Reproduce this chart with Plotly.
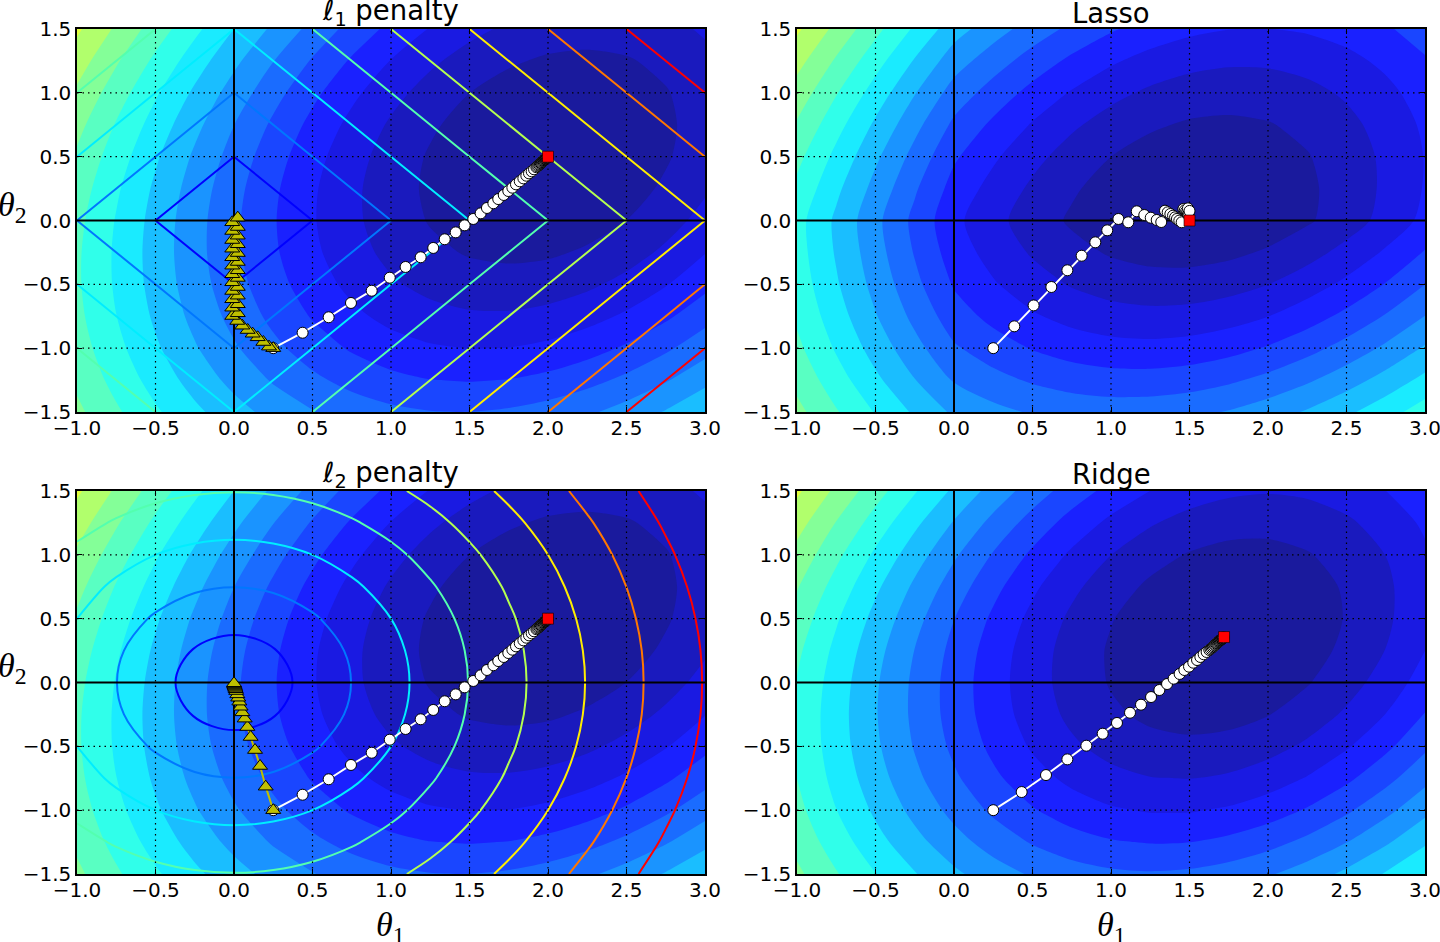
import plotly.graph_objects as go

# grid the background surfaces are read on
theta1_grid = [-1.0, -0.75, -0.5, -0.25, 0.0, 0.25, 0.5, 0.75, 1.0, 1.25, 1.5, 1.75, 2.0, 2.25, 2.5, 2.75, 3.0]
theta2_grid = [-1.5, -1.25, -1.0, -0.75, -0.5, -0.25, 0.0, 0.25, 0.5, 0.75, 1.0, 1.25, 1.5]

cost_plain = [
    [6.55, 5.749, 5.034, 4.407, 3.867, 3.414, 3.048, 2.769, 2.577, 2.472, 2.454, 2.524, 2.68, 2.924, 3.254, 3.672, 4.177],
    [6.222, 5.396, 4.656, 4.004, 3.439, 2.961, 2.57, 2.266, 2.049, 1.919, 1.876, 1.921, 2.052, 2.271, 2.576, 2.969, 3.449],
    [5.978, 5.127, 4.362, 3.685, 3.095, 2.592, 2.176, 1.847, 1.605, 1.45, 1.382, 1.402, 1.508, 1.702, 1.982, 2.35, 2.805],
    [5.817, 4.941, 4.151, 3.449, 2.834, 2.306, 1.865, 1.511, 1.244, 1.064, 0.971, 0.966, 1.047, 1.216, 1.471, 1.814, 2.244],
    [5.74, 4.839, 4.024, 3.297, 2.657, 2.104, 1.638, 1.259, 0.967, 0.762, 0.644, 0.614, 0.67, 0.814, 1.044, 1.362, 1.767],
    [5.747, 4.821, 3.981, 3.229, 2.564, 1.986, 1.495, 1.091, 0.774, 0.544, 0.401, 0.346, 0.377, 0.496, 0.701, 0.994, 1.374],
    [5.838, 4.887, 4.022, 3.245, 2.555, 1.952, 1.436, 1.007, 0.665, 0.41, 0.242, 0.162, 0.168, 0.262, 0.442, 0.71, 1.065],
    [6.012, 5.036, 4.146, 3.344, 2.629, 2.001, 1.46, 1.006, 0.639, 0.359, 0.166, 0.061, 0.042, 0.111, 0.266, 0.509, 0.839],
    [6.27, 5.269, 4.354, 3.527, 2.787, 2.134, 1.568, 1.089, 0.697, 0.392, 0.174, 0.044, 0.0, 0.044, 0.174, 0.392, 0.697],
    [6.612, 5.586, 4.646, 3.794, 3.029, 2.351, 1.76, 1.256, 0.839, 0.509, 0.266, 0.111, 0.042, 0.061, 0.166, 0.359, 0.639],
    [7.038, 5.987, 5.022, 4.145, 3.355, 2.652, 2.036, 1.507, 1.065, 0.71, 0.442, 0.262, 0.168, 0.162, 0.242, 0.41, 0.665],
    [7.547, 6.471, 5.481, 4.579, 3.764, 3.036, 2.395, 1.841, 1.374, 0.994, 0.701, 0.496, 0.377, 0.346, 0.401, 0.544, 0.774],
    [8.14, 7.039, 6.024, 5.097, 4.257, 3.504, 2.838, 2.259, 1.767, 1.362, 1.044, 0.814, 0.67, 0.614, 0.644, 0.762, 0.967],
]
cost_lasso = [
    [7.8, 6.874, 6.034, 5.282, 4.617, 4.289, 4.048, 3.894, 3.827, 3.847, 3.954, 4.149, 4.43, 4.799, 5.254, 5.797, 6.427],
    [7.347, 6.396, 5.531, 4.754, 4.064, 3.711, 3.445, 3.266, 3.174, 3.169, 3.251, 3.421, 3.677, 4.021, 4.451, 4.969, 5.574],
    [6.978, 6.002, 5.112, 4.31, 3.595, 3.217, 2.926, 2.722, 2.605, 2.575, 2.632, 2.777, 3.008, 3.327, 3.732, 4.225, 4.805],
    [6.692, 5.691, 4.776, 3.949, 3.209, 2.806, 2.49, 2.261, 2.119, 2.064, 2.096, 2.216, 2.422, 2.716, 3.096, 3.564, 4.119],
    [6.49, 5.464, 4.524, 3.672, 2.907, 2.479, 2.138, 1.884, 1.717, 1.637, 1.644, 1.739, 1.92, 2.189, 2.544, 2.987, 3.517],
    [6.372, 5.321, 4.356, 3.479, 2.689, 2.236, 1.87, 1.591, 1.399, 1.294, 1.276, 1.346, 1.502, 1.746, 2.076, 2.494, 2.999],
    [6.338, 5.262, 4.272, 3.37, 2.555, 2.077, 1.686, 1.382, 1.165, 1.035, 0.992, 1.037, 1.168, 1.387, 1.692, 2.085, 2.565],
    [6.637, 5.536, 4.521, 3.594, 2.754, 2.251, 1.835, 1.506, 1.264, 1.109, 1.041, 1.061, 1.167, 1.361, 1.641, 2.009, 2.464],
    [7.02, 5.894, 4.854, 3.902, 3.037, 2.509, 2.068, 1.714, 1.447, 1.267, 1.174, 1.169, 1.25, 1.419, 1.674, 2.017, 2.447],
    [7.487, 6.336, 5.271, 4.294, 3.404, 2.851, 2.385, 2.006, 1.714, 1.509, 1.391, 1.361, 1.417, 1.561, 1.791, 2.109, 2.514],
    [8.038, 6.862, 5.772, 4.77, 3.855, 3.277, 2.786, 2.382, 2.065, 1.835, 1.692, 1.637, 1.668, 1.787, 1.992, 2.285, 2.665],
    [8.672, 7.471, 6.356, 5.329, 4.389, 3.786, 3.27, 2.841, 2.499, 2.244, 2.076, 1.996, 2.002, 2.096, 2.276, 2.544, 2.899],
    [9.39, 8.164, 7.024, 5.972, 5.007, 4.379, 3.838, 3.384, 3.017, 2.737, 2.544, 2.439, 2.42, 2.489, 2.644, 2.887, 3.217],
]
cost_ridge = [
    [6.875, 6.03, 5.284, 4.638, 4.092, 3.645, 3.298, 3.05, 2.902, 2.853, 2.904, 3.055, 3.305, 3.655, 4.104, 4.653, 5.302],
    [6.478, 5.608, 4.837, 4.166, 3.595, 3.123, 2.751, 2.478, 2.305, 2.231, 2.257, 2.383, 2.608, 2.933, 3.357, 3.881, 4.505],
    [6.178, 5.283, 4.487, 3.791, 3.195, 2.698, 2.301, 2.003, 1.805, 1.706, 1.707, 1.808, 2.008, 2.308, 2.707, 3.206, 3.805],
    [5.973, 5.053, 4.232, 3.511, 2.89, 2.368, 1.946, 1.623, 1.4, 1.276, 1.252, 1.328, 1.503, 1.778, 2.152, 2.626, 3.2],
    [5.865, 4.92, 4.074, 3.328, 2.682, 2.135, 1.688, 1.34, 1.092, 0.943, 0.894, 0.945, 1.095, 1.345, 1.694, 2.143, 2.692],
    [5.853, 4.883, 4.012, 3.241, 2.57, 1.998, 1.526, 1.153, 0.88, 0.706, 0.632, 0.658, 0.783, 1.008, 1.332, 1.756, 2.28],
    [5.938, 4.943, 4.047, 3.251, 2.555, 1.958, 1.461, 1.063, 0.765, 0.566, 0.467, 0.468, 0.568, 0.768, 1.067, 1.466, 1.965],
    [6.118, 5.098, 4.177, 3.356, 2.635, 2.013, 1.491, 1.068, 0.745, 0.521, 0.397, 0.373, 0.448, 0.623, 0.897, 1.271, 1.745],
    [6.395, 5.35, 4.404, 3.558, 2.812, 2.165, 1.618, 1.17, 0.822, 0.573, 0.424, 0.375, 0.425, 0.575, 0.824, 1.173, 1.622],
    [6.768, 5.698, 4.727, 3.856, 3.085, 2.413, 1.841, 1.368, 0.995, 0.721, 0.547, 0.473, 0.498, 0.623, 0.847, 1.171, 1.595],
    [7.238, 6.143, 5.147, 4.251, 3.455, 2.758, 2.161, 1.663, 1.265, 0.966, 0.767, 0.668, 0.668, 0.768, 0.967, 1.266, 1.665],
    [7.803, 6.683, 5.662, 4.741, 3.92, 3.198, 2.576, 2.053, 1.63, 1.306, 1.082, 0.958, 0.933, 1.008, 1.182, 1.456, 1.83],
    [8.465, 7.32, 6.274, 5.328, 4.482, 3.735, 3.088, 2.54, 2.092, 1.743, 1.494, 1.345, 1.295, 1.345, 1.494, 1.743, 2.092],
]
levels_plain = [0.44, 0.904, 1.392, 1.907, 2.45, 3.022, 3.626, 4.261, 4.932, 5.639, 6.383, 7.169, 7.997]
levels_lasso = [1.446, 1.924, 2.428, 2.958, 3.52, 4.111, 4.733, 5.389, 6.082, 6.811, 7.579, 8.39, 9.244]
levels_ridge = [0.799, 1.261, 1.747, 2.26, 2.8, 3.37, 3.97, 4.603, 5.271, 5.975, 6.716, 7.498, 8.322]
band_colors = [
    "rgb(26,26,157)", "rgb(26,26,190)", "rgb(26,26,226)", "rgb(26,33,255)", "rgb(26,70,255)",
    "rgb(26,108,255)", "rgb(26,148,255)", "rgb(26,190,255)", "rgb(26,235,255)", "rgb(48,255,234)",
    "rgb(89,255,194)", "rgb(132,255,152)", "rgb(177,255,108)", "rgb(226,255,61)",
]

# penalty surfaces
coarse_theta1 = [-1.0, -0.5, 0.0, 0.5, 1.0, 1.5, 2.0, 2.5, 3.0]
coarse_theta2 = [-1.5, -1.0, -0.5, 0.0, 0.5, 1.0, 1.5]
l1_norm = [
    [2.5, 2.0, 1.5, 2.0, 2.5, 3.0, 3.5, 4.0, 4.5],
    [2.0, 1.5, 1.0, 1.5, 2.0, 2.5, 3.0, 3.5, 4.0],
    [1.5, 1.0, 0.5, 1.0, 1.5, 2.0, 2.5, 3.0, 3.5],
    [1.0, 0.5, 0.0, 0.5, 1.0, 1.5, 2.0, 2.5, 3.0],
    [1.5, 1.0, 0.5, 1.0, 1.5, 2.0, 2.5, 3.0, 3.5],
    [2.0, 1.5, 1.0, 1.5, 2.0, 2.5, 3.0, 3.5, 4.0],
    [2.5, 2.0, 1.5, 2.0, 2.5, 3.0, 3.5, 4.0, 4.5],
]
l2_row0 = [1.0, 0.75, 0.5, 0.25, 0.0, 0.25, 0.5, 0.75, 1.0, 1.25, 1.5, 1.75, 2.0, 2.25, 2.5, 2.75, 3.0]
l2_row1 = [1.031, 0.791, 0.559, 0.354, 0.25, 0.354, 0.559, 0.791, 1.031, 1.275, 1.521, 1.768, 2.016, 2.264, 2.512, 2.761, 3.01]
l2_row2 = [1.118, 0.901, 0.707, 0.559, 0.5, 0.559, 0.707, 0.901, 1.118, 1.346, 1.581, 1.82, 2.062, 2.305, 2.55, 2.795, 3.041]
l2_row3 = [1.25, 1.061, 0.901, 0.791, 0.75, 0.791, 0.901, 1.061, 1.25, 1.458, 1.677, 1.904, 2.136, 2.372, 2.61, 2.85, 3.092]
l2_row4 = [1.414, 1.25, 1.118, 1.031, 1.0, 1.031, 1.118, 1.25, 1.414, 1.601, 1.803, 2.016, 2.236, 2.462, 2.693, 2.926, 3.162]
l2_row5 = [1.601, 1.458, 1.346, 1.275, 1.25, 1.275, 1.346, 1.458, 1.601, 1.768, 1.953, 2.151, 2.358, 2.574, 2.795, 3.021, 3.25]
l2_row6 = [1.803, 1.677, 1.581, 1.521, 1.5, 1.521, 1.581, 1.677, 1.803, 1.953, 2.121, 2.305, 2.5, 2.704, 2.915, 3.132, 3.354]
l2_norm = [l2_row6, l2_row5, l2_row4, l2_row3, l2_row2, l2_row1, l2_row0,
           l2_row1, l2_row2, l2_row3, l2_row4, l2_row5, l2_row6]
norm_line_colors = [[0, "#0000ff"], [1 / 7, "#0077ff"], [2 / 7, "#00edff"], [3 / 7, "#53ffaf"],
                    [4 / 7, "#b4ff50"], [5 / 7, "#ffed00"], [6 / 7, "#ff7700"], [1, "#ff0000"]]

# gradient descent paths
plain_t1 = [0.25, 0.437, 0.603, 0.745, 0.877, 0.992, 1.093, 1.189, 1.269, 1.342, 1.412, 1.469, 1.524, 1.571,
            1.611, 1.652, 1.683, 1.718, 1.747, 1.773, 1.796, 1.82, 1.843, 1.862, 1.879, 1.896, 1.911, 1.926,
            1.932, 1.938, 1.944, 1.949, 1.954, 1.958, 1.962, 1.966, 1.97, 1.973, 1.976, 1.979, 1.982, 1.984,
            1.986, 1.988, 1.99, 1.992, 1.994, 1.996, 1.998]
plain_t2 = [-1.0, -0.879, -0.758, -0.646, -0.55, -0.448, -0.364, -0.288, -0.215, -0.147, -0.093, -0.038, 0.012, 0.056,
            0.098, 0.135, 0.168, 0.2, 0.231, 0.257, 0.283, 0.307, 0.33, 0.351, 0.369, 0.385, 0.401, 0.417,
            0.424, 0.431, 0.437, 0.443, 0.449, 0.453, 0.458, 0.462, 0.467, 0.47, 0.473, 0.477, 0.48, 0.482,
            0.484, 0.487, 0.489, 0.491, 0.493, 0.496, 0.498]
l1_path_t1 = [0.25, 0.223, 0.187, 0.151, 0.119, 0.087, 0.053, 0.021, -0.011, 0.024, -0.011, 0.024, -0.011, 0.024,
              -0.011, 0.024, -0.011, 0.024, -0.011, 0.024, -0.011, 0.024, -0.011, 0.024, -0.011, 0.024, -0.011,
              0.024, -0.011, 0.024, -0.011, 0.024]
l1_path_t2 = [-1.0, -0.988, -0.952, -0.915, -0.887, -0.858, -0.824, -0.787, -0.748, -0.727, -0.683, -0.656, -0.617,
              -0.589, -0.552, -0.521, -0.484, -0.45, -0.421, -0.39, -0.354, -0.325, -0.288, -0.255, -0.221, -0.186,
              -0.153, -0.119, -0.082, -0.051, -0.014, 0.022]
l2_path_t1 = [0.25, 0.202, 0.166, 0.134, 0.106, 0.085, 0.068, 0.053, 0.042, 0.034, 0.027, 0.021, 0.014,
              0.011, 0.008, 0.006, 0.004, 0.002, 0.001, 0.0]
l2_path_t2 = [-1.0, -0.816, -0.654, -0.529, -0.427, -0.349, -0.283, -0.234, -0.19, -0.15, -0.119, -0.093, -0.067,
              -0.053, -0.042, -0.033, -0.025, -0.018, -0.012, -0.006]
lasso_t1 = [0.25, 0.384, 0.507, 0.62, 0.722, 0.813, 0.9, 0.976, 1.047, 1.11, 1.164, 1.212, 1.253, 1.291, 1.32,
            1.344, 1.361, 1.378, 1.395, 1.408, 1.42, 1.435, 1.45, 1.461, 1.47, 1.478, 1.484, 1.49, 1.494, 1.49, 1.50]
lasso_t2 = [-1.0, -0.829, -0.665, -0.521, -0.39, -0.276, -0.171, -0.077, 0.012, -0.014, 0.072, 0.043, 0.022, 0.004,
            -0.012, 0.077, 0.064, 0.051, 0.038, 0.025, 0.012, -0.001, -0.014, 0.09, 0.08, 0.07, 0.06, 0.05, 0.04,
            0.095, 0.075]
ridge_t1 = [0.25, 0.431, 0.586, 0.722, 0.843, 0.947, 1.038, 1.121, 1.191, 1.255, 1.308, 1.357, 1.399, 1.437, 1.467,
            1.497, 1.524, 1.548, 1.569, 1.59, 1.609, 1.626, 1.634, 1.641, 1.648, 1.654, 1.66, 1.665, 1.67, 1.675,
            1.679, 1.683, 1.687, 1.69, 1.693, 1.696, 1.699, 1.702, 1.705, 1.708, 1.711, 1.713, 1.715, 1.717]
ridge_t2 = [-1.0, -0.858, -0.725, -0.602, -0.495, -0.401, -0.317, -0.237, -0.174, -0.114, -0.059, -0.012, 0.03,
            0.067, 0.098, 0.124, 0.155, 0.176, 0.2, 0.221, 0.239, 0.255, 0.262, 0.27, 0.277, 0.284, 0.291, 0.297,
            0.303, 0.308, 0.312, 0.317, 0.321, 0.325, 0.328, 0.331, 0.334, 0.337, 0.34, 0.343, 0.346, 0.349,
            0.351, 0.353]
optimum_plain = [2.0, 0.5]
optimum_lasso = [1.5, 0.0]
optimum_ridge = [1.72, 0.356]

x_ticks = [-1.0, -0.5, 0.0, 0.5, 1.0, 1.5, 2.0, 2.5, 3.0]
y_ticks = [-1.5, -1.0, -0.5, 0.0, 0.5, 1.0, 1.5]
W, H = 1440, 942

fig = go.Figure()


def add_bands(z, levels, ax):
    # constraint contours shade the side that fails the test, so ">" fills below the level
    for i in range(len(levels) - 1, -1, -1):
        fig.add_trace(go.Contour(
            x=theta1_grid, y=theta2_grid, z=z, xaxis="x" + ax, yaxis="y" + ax,
            contours=dict(type="constraint", operation=">", value=levels[i]),
            fillcolor=band_colors[i], line=dict(width=0, smoothing=0.8, color=band_colors[i]),
            showscale=False, hoverinfo="skip"))


def add_norm_lines(x, y, z, step, ax, smooth):
    fig.add_trace(go.Contour(
        x=x, y=y, z=z, xaxis="x" + ax, yaxis="y" + ax,
        contours=dict(coloring="lines", start=step, end=step * 8, size=step),
        colorscale=norm_line_colors, line=dict(width=2, smoothing=smooth), showscale=False, hoverinfo="skip"))


def add_guides(ax):
    gx, gy = [], []
    for t in x_ticks[1:-1]:
        gx += [t, t, None]
        gy += [y_ticks[0], y_ticks[-1], None]
    for t in y_ticks[1:-1]:
        gx += [x_ticks[0], x_ticks[-1], None]
        gy += [t, t, None]
    fig.add_trace(go.Scatter(x=gx, y=gy, mode="lines", xaxis="x" + ax, yaxis="y" + ax, hoverinfo="skip",
                             line=dict(color="black", width=1.2, dash="1.5px 4px")))
    fig.add_trace(go.Scatter(x=[x_ticks[0], x_ticks[-1], None, 0, 0], y=[0, 0, None, y_ticks[0], y_ticks[-1]],
                             mode="lines", xaxis="x" + ax, yaxis="y" + ax, hoverinfo="skip",
                             line=dict(color="black", width=2)))


def add_path(x, y, ax, color, symbol, size):
    fig.add_trace(go.Scatter(
        x=x, y=y, mode="lines+markers", xaxis="x" + ax, yaxis="y" + ax, hoverinfo="skip",
        line=dict(color=color, width=2),
        marker=dict(symbol=symbol, size=size, color=color, line=dict(color="black", width=1))))


def add_optimum(pt, ax):
    fig.add_trace(go.Scatter(
        x=[pt[0]], y=[pt[1]], mode="markers", xaxis="x" + ax, yaxis="y" + ax, hoverinfo="skip",
        marker=dict(symbol="square", size=11, color="red", line=dict(color="black", width=0.6))))


# top left
add_bands(cost_plain, levels_plain, "")
add_norm_lines(coarse_theta1, coarse_theta2, l1_norm, 0.5, "", 0)
add_guides("")
add_path(plain_t1, plain_t2, "", "white", "circle", 11)
add_path(l1_path_t1, l1_path_t2, "", "#bfbf00", "triangle-up", 13)
add_optimum(optimum_plain, "")
# top right
add_bands(cost_lasso, levels_lasso, "2")
add_guides("2")
add_path(lasso_t1, lasso_t2, "2", "white", "circle", 11)
add_optimum(optimum_lasso, "2")
# bottom left
add_bands(cost_plain, levels_plain, "3")
add_norm_lines(theta1_grid, theta2_grid, l2_norm, 0.3727, "3", 1.0)
add_guides("3")
add_path(plain_t1, plain_t2, "3", "white", "circle", 11)
add_path(l2_path_t1, l2_path_t2, "3", "#bfbf00", "triangle-up", 13)
add_optimum(optimum_plain, "3")
# bottom right
add_bands(cost_ridge, levels_ridge, "4")
add_guides("4")
add_path(ridge_t1, ridge_t2, "4", "white", "circle", 11)
add_optimum(optimum_ridge, "4")

left = [77 / W, 705 / W]
right = [797 / W, 1425 / W]
top = [1 - 412 / H, 1 - 29 / H]
bottom = [1 - 874 / H, 1 - 491 / H]


def xaxis_of(dom, anchor):
    return dict(domain=dom, anchor=anchor, range=[-1, 3], tickvals=x_ticks, tickformat=".1f",
                ticks="inside", ticklen=5, tickcolor="black", showgrid=False, zeroline=False,
                showline=True, linecolor="black", linewidth=1.5, mirror="ticks",
                ticklabelstandoff=-3, ticklabeloverflow="allow",
                tickfont=dict(family="DejaVu Sans", size=20, color="black"))


def yaxis_of(dom, anchor):
    return dict(domain=dom, anchor=anchor, range=[-1.5, 1.5], tickvals=y_ticks, tickformat=".1f",
                ticks="inside", ticklen=5, tickcolor="black", showgrid=False, zeroline=False,
                showline=True, linecolor="black", linewidth=1.5, mirror="ticks",
                ticklabeloverflow="allow",
                tickfont=dict(family="DejaVu Sans", size=20, color="black"))


def label(text, px, py, size, family="DejaVu Sans"):
    return dict(text=text, x=px / W, y=1 - py / H, xref="paper", yref="paper", showarrow=False,
                xanchor="center", yanchor="middle", font=dict(family=family, size=size, color="black"))


fig.update_layout(
    width=W, height=H, margin=dict(l=0, r=0, t=0, b=0, autoexpand=False), showlegend=False,
    paper_bgcolor="white", plot_bgcolor=band_colors[13],
    xaxis=xaxis_of(left, "y"), yaxis=yaxis_of(top, "x"),
    xaxis2=xaxis_of(right, "y2"), yaxis2=yaxis_of(top, "x2"),
    xaxis3=xaxis_of(left, "y3"), yaxis3=yaxis_of(bottom, "x3"),
    xaxis4=xaxis_of(right, "y4"), yaxis4=yaxis_of(bottom, "x4"),
    annotations=[
        label("<i>ℓ</i><sub>1</sub> penalty", 391, 13, 27.5),
        label("Lasso", 1111, 13, 27.5),
        label("<i>ℓ</i><sub>2</sub> penalty", 391, 474, 27.5),
        label("Ridge", 1111, 474, 27.5),
        label("<i>θ</i><sub>2</sub>", 13, 207, 34, "Liberation Serif"),
        label("<i>θ</i><sub>2</sub>", 13, 668, 34, "Liberation Serif"),
        label("<i>θ</i><sub>1</sub>", 391, 927, 34, "Liberation Serif"),
        label("<i>θ</i><sub>1</sub>", 1111, 927, 34, "Liberation Serif"),
    ],
)

fig.write_html("out.html", config={"displayModeBar": False}, post_script="document.body.style.margin='0';")
